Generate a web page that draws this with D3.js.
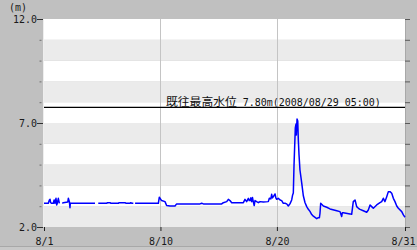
<!DOCTYPE html>
<html><head><meta charset="utf-8">
<script src="https://cdn.jsdelivr.net/npm/d3@7"></script>
<style>html,body{margin:0;padding:0;background:#c0c0c0;overflow:hidden}</style>
</head><body>
<svg id="c" width="417" height="250"></svg>
<script>
// ---- data ----
const xTickDays = [0, 10, 20, 31];
const xTickLabels = ["8/1", "8/10", "8/20", "8/31"];
const yMajorTicks = [2, 7, 12];
const yMajorLabels = ["2.0", "7.0", "12.0"];
const yUnit = "(m)";
const recordLevel = 7.80;
const recordLabelJa = "既往最高水位";
const recordLabelRest = " 7.80m(2008/08/29 05:00)";
// day offset from 8/1 00:00 ; null level = missing data
const days = [
  0, 0.37, 0.46, 0.52, 0.57, 0.66, 0.80, 0.87, 0.94, 1.03, 1.09, 1.14, 1.23, 1.32, 1.45,
  1.57, 1.66, 2.04, 2.09, 2.18, 2.23, 2.26, 4.38, 4.50,
  4.66, 5.38, 5.45, 5.67, 5.75, 6.38, 6.45, 6.96, 7.05, 7.38, 7.45, 7.55, 7.67, 7.75,
  7.82, 9.82, 9.90, 10.10, 10.39, 10.53, 10.82, 11.25, 11.39, 13.40, 13.54, 13.68, 15.26, 15.40,
  15.69, 15.83, 15.97, 16.12, 16.26, 17.12, 17.26, 17.40, 17.55, 17.62,
  17.69, 17.76, 17.83, 17.90, 17.98, 18.05, 18.12, 18.26, 18.41, 18.55, 18.83, 19.26, 19.35,
  19.48, 19.55, 19.62, 19.70, 19.84, 19.91, 19.98, 20.12, 20.27, 20.41, 20.55, 20.70, 20.84,
  20.98, 21.12, 21.27, 21.35,
  21.41, 21.47, 21.58, 21.64, 21.67, 21.73, 21.79, 21.84, 21.90, 21.98, 22.13,
  22.27, 22.41, 22.56, 22.70, 22.84, 22.99, 23.13, 23.42, 23.56, 23.65, 23.70, 23.76, 23.99,
  24.28, 24.56, 25.14, 25.42, 25.56, 25.62, 25.71, 26.28, 26.42, 26.56, 26.71, 26.85, 27.00,
  27.14, 27.42, 27.71, 27.85, 28.00, 28.14, 28.28, 28.57, 28.85, 29.00, 29.14, 29.28, 29.43,
  29.57, 29.71, 29.86, 30.00, 30.14, 30.29, 30.43, 30.72, 30.86, 31.00
];
const levels = [
  3.14, 3.14, 3.30, 3.33, 3.17, 3.14, 3.14, 3.30, 3.14, 3.38, 3.06, 3.14, 3.38, 3.14, null,
  3.14, 3.17, 3.20, 3.38, 3.22, 2.93, 3.14, 3.14, null,
  3.14, 3.14, 3.17, 3.17, 3.14, 3.14, 3.17, 3.17, 3.14, 3.14, 3.17, 3.14, 3.14, null,
  3.14, 3.14, 3.43, 3.27, 3.22, 3.03, 3.01, 3.01, 3.11, 3.11, 3.14, 3.11, 3.11, 3.17,
  3.22, 3.33, 3.27, 3.17, 3.17, 3.17, 3.33, 3.22, 3.38, 3.27,
  3.27, 3.40, 3.22, 3.42, 3.20, 3.03, 3.27, 3.22, 3.17, 3.22, 3.20, 3.22, 3.38,
  3.35, 3.57, 3.40, 3.46, 3.59, 3.40, 3.33, 3.38, 3.30, 3.27, 3.14, 3.14, 3.11,
  3.01, 3.11, 3.30, 3.54,
  3.63, 4.98, 6.76, 6.95, 6.42, 7.19, 7.10, 6.18, 5.46, 4.74, 4.12,
  3.50, 3.18, 2.98, 2.85, 2.75, 2.60, 2.52, 2.40, 2.45, 2.45, 2.66, 3.14, 3.01,
  2.95, 2.87, 2.78, 2.74, 2.50, 2.69, 2.69, 2.63, 2.61, 3.22, 3.30, 2.98, 2.90,
  2.85, 2.78, 2.71, 2.82, 3.06, 2.98, 2.90, 3.06, 3.17, 3.22, 3.38, 3.22, 3.46,
  3.70, 3.70, 3.62, 3.38, 3.22, 3.01, 2.90, 2.74, 2.58, 2.47
];

// ---- drawing ----
const svg = d3.select("#c");
const x = d3.scaleLinear().domain([0, 31]).range([44, 405]);
const y = d3.scaleLinear().domain([2, 12]).range([227, 19]);
const mono = "'DejaVu Sans Mono', 'Liberation Mono', monospace";

svg.append("rect").attr("width", 417).attr("height", 250).attr("fill", "#c0c0c0");
svg.append("line").attr("x1", 0).attr("x2", 417).attr("y1", 246.5).attr("y2", 246.5)
  .attr("stroke", "#a8a8a8");
svg.append("rect").attr("x", 0).attr("y", 247).attr("width", 417).attr("height", 3).attr("fill", "#c8c8c8");

// bands
const bands = d3.range(2, 12);
svg.append("g").selectAll("rect").data(bands).join("rect")
  .attr("x", x(0)).attr("width", x(31) - x(0))
  .attr("y", d => y(d + 1)).attr("height", d => y(d) - y(d + 1))
  .attr("fill", d => d % 2 === 1 ? "#ffffff" : "#ebebeb");

// vertical grid
svg.append("g").selectAll("line").data(xTickDays.slice(1, -1)).join("line")
  .attr("x1", d => Math.round(x(d)) + 0.5).attr("x2", d => Math.round(x(d)) + 0.5)
  .attr("y1", y(12)).attr("y2", y(2)).attr("stroke", "#c4c4c4");

// frame edges
svg.append("line").attr("x1", 43.5).attr("x2", 43.5).attr("y1", y(12)).attr("y2", y(2))
  .attr("stroke", "#eeeeee");
svg.append("line").attr("x1", 405.5).attr("x2", 405.5).attr("y1", y(12)).attr("y2", y(2))
  .attr("stroke", "#a8a8a8");

// record line
svg.append("line").attr("x1", x(0)).attr("x2", x(31))
  .attr("y1", y(recordLevel) + 1).attr("y2", y(recordLevel) + 1)
  .attr("stroke", "#000").attr("stroke-width", 1.3);
const rec = svg.append("text").attr("x", 166).attr("y", y(recordLevel) - 0.5)
  .attr("fill", "#111");
rec.append("tspan").attr("font-family", "'Noto Sans CJK JP'").attr("font-size", 11.8)
  .text(recordLabelJa);
rec.append("tspan").attr("font-family", mono).attr("font-size", 11)
  .attr("textLength", recordLabelRest.length * 6).attr("lengthAdjust", "spacingAndGlyphs")
  .text(recordLabelRest);

// series
const pts = days.map((d, i) => [d, levels[i]]);
const line = d3.line().defined(p => p[1] !== null).x(p => x(p[0])).y(p => y(p[1]));
svg.append("path").datum(pts).attr("d", line)
  .attr("fill", "none").attr("stroke", "#0000ff").attr("stroke-width", 1.5)
  .attr("stroke-linejoin", "round");

// left minor ticks
const minor = svg.append("g").attr("transform", "translate(41.5,0)")
  .call(d3.axisLeft(y).tickValues(d3.range(2, 13)).tickSize(2).tickFormat(""));
minor.select(".domain").remove();
minor.selectAll("line").attr("stroke", "#707070");
// left major ticks
const major = svg.append("g").attr("transform", "translate(43,0)")
  .call(d3.axisLeft(y).tickValues(yMajorTicks).tickSize(6).tickPadding(0)
    .tickFormat((d, i) => yMajorLabels[i]));
major.select(".domain").remove();
major.selectAll("line").attr("stroke", "#303030");
major.selectAll("text").attr("font-family", mono).attr("font-size", 11)
  .attr("fill", "#1a1a1a").attr("dy", "0.36em")
  .attr("textLength", d => yMajorLabels[yMajorTicks.indexOf(d)].length * 6)
  .attr("lengthAdjust", "spacingAndGlyphs");

// right ticks
const right = svg.append("g").attr("transform", "translate(405,0)")
  .call(d3.axisRight(y).tickValues(d3.range(2, 13)).tickSize(5).tickFormat(""));
right.select(".domain").remove();
right.selectAll("line").attr("stroke", "#5a5a5a");

// bottom axis
const bottom = svg.append("g").attr("transform", `translate(0,${y(2)})`)
  .call(d3.axisBottom(x).tickValues(xTickDays).tickSize(4).tickPadding(0)
    .tickFormat((d, i) => xTickLabels[i]));
bottom.select(".domain").remove();
bottom.selectAll("line").attr("stroke", "#202020");
bottom.selectAll("text").attr("font-family", mono).attr("font-size", 11)
  .attr("fill", "#1a1a1a").attr("y", 18).attr("dy", 0)
  .attr("textLength", d => xTickLabels[xTickDays.indexOf(d)].length * 6)
  .attr("lengthAdjust", "spacingAndGlyphs");
// keep the last label inside the picture
bottom.selectAll("text").filter(d => d === 31)
  .attr("text-anchor", "end").attr("x", 415 - x(31));

// unit
svg.append("text").attr("x", 9).attr("y", 11).attr("font-family", mono).attr("font-size", 11)
  .attr("fill", "#1a1a1a").attr("textLength", 18).attr("lengthAdjust", "spacingAndGlyphs")
  .text(yUnit);
</script>
</body></html>
